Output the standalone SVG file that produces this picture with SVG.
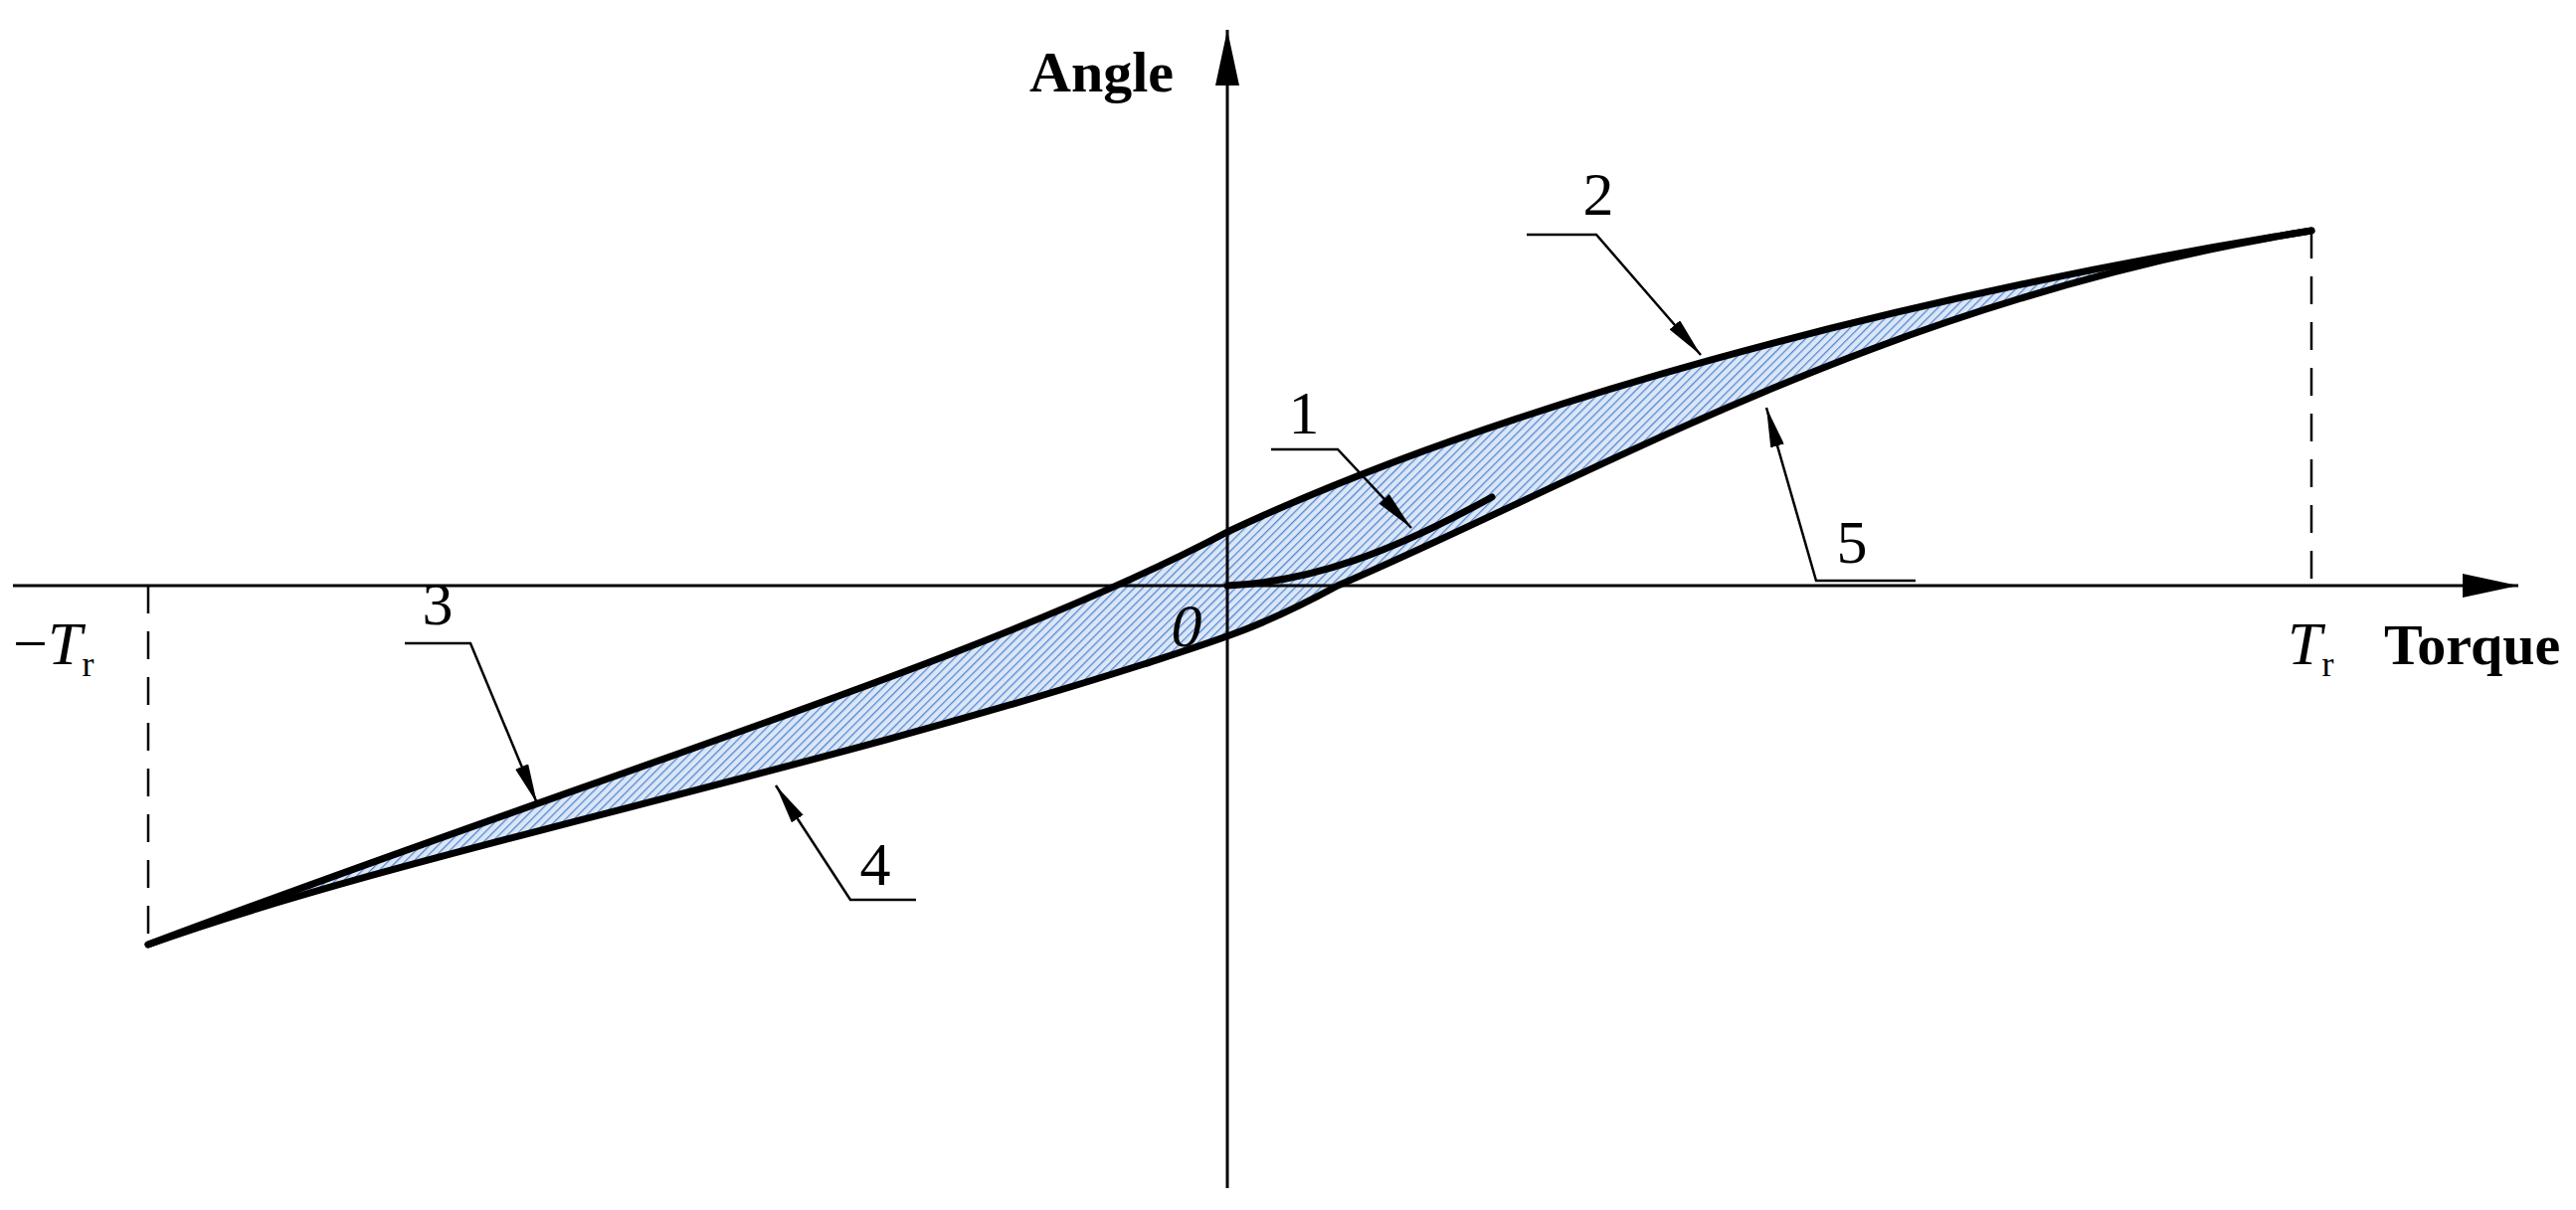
<svg xmlns="http://www.w3.org/2000/svg" width="2590" height="1217" viewBox="0 0 2590 1217">
<style>
.t{font-family:"Liberation Serif",serif;font-size:62px;fill:#000}
.b{font-weight:bold;font-size:58px}
.i{font-style:italic}
.ax{stroke:#000;stroke-width:3;fill:none}
.cv{stroke:#000;stroke-width:7;fill:none;stroke-linecap:round}
.ld{stroke:#000;stroke-width:2.5;fill:none}
.ds{stroke:#000;stroke-width:2.5;stroke-dasharray:28,18;fill:none}
</style>
<defs>
<pattern id="h" width="6" height="6" patternUnits="userSpaceOnUse" patternTransform="rotate(45)">
<rect width="6" height="6" fill="#dbe6f6"/>
<line x1="0" y1="0" x2="0" y2="6" stroke="#4f86d2" stroke-width="2.5"/>
</pattern>
<marker id="a" markerWidth="12" markerHeight="8" refX="12" refY="4" orient="auto" markerUnits="userSpaceOnUse" viewBox="0 0 12 8">
</marker>
<marker id="arr" viewBox="0 0 40 14" refX="40" refY="7" markerWidth="40" markerHeight="14" orient="auto" markerUnits="userSpaceOnUse"><path d="M0,0 L40,7 L0,14 z" fill="#000"/></marker>
<marker id="axa" viewBox="0 0 56 24" refX="56" refY="12" markerWidth="56" markerHeight="24" orient="auto" markerUnits="userSpaceOnUse"><path d="M0,0 L56,12 L0,24 z" fill="#000"/></marker>
</defs>
<g id="region">
<path d="M149,950 C600,780 1000,660 1234,535 C1500,410 1900,300 2324,232 C1900,300 1600,480 1345,589 C1270,630 1230,642 1150,668 C800,780 400,860 149,950 z" fill="url(#h)" stroke="none"/>
</g>
<g id="axes">
<line class="ax" x1="13" y1="589" x2="2532" y2="589" marker-end="url(#axa)"/>
<line class="ax" x1="1234" y1="1195" x2="1234" y2="30" marker-end="url(#axa)"/>
<line class="ds" x1="2324" y1="232" x2="2324" y2="589"/>
<line class="ds" x1="149" y1="589" x2="149" y2="950"/>
</g>
<g id="curves">
<path id="c2" class="cv" d="M149,950 C600,780 1000,660 1234,535 C1500,410 1900,300 2324,232"/>
<path id="c5" class="cv" d="M2324,232 C1900,300 1600,480 1345,589 C1270,630 1230,642 1150,668 C800,780 400,860 149,950"/>
<path id="c1" class="cv" d="M1234,589 C1320,585 1400,555 1500,500"/>
</g>
<g id="connectors">
<polyline class="ld" points="1535,236 1605,236 1710,357" marker-end="url(#arr)"/>
<polyline class="ld" points="1278,452 1345,452 1419,531" marker-end="url(#arr)"/>
<polyline class="ld" points="1926,584 1826,584 1776,410" marker-end="url(#arr)"/>
<polyline class="ld" points="407,647 473,647 540,808" marker-end="url(#arr)"/>
<polyline class="ld" points="921,905 855,905 780,790" marker-end="url(#arr)"/>
</g>
<g id="labels">
<text class="t" x="1607" y="216" text-anchor="middle">2</text>
<text class="t" x="1311" y="436" text-anchor="middle">1</text>
<text class="t" x="1862" y="566" text-anchor="middle">5</text>
<text class="t" x="440" y="628" text-anchor="middle">3</text>
<text class="t" x="880" y="890" text-anchor="middle">4</text>
<text class="t i" x="1193" y="650" text-anchor="middle">0</text>
<text class="t b" x="1180" y="92" text-anchor="end">Angle</text>
<text class="t b" x="2397" y="668">Torque</text>
<text class="t i" x="2300" y="668">T<tspan font-size="36" font-style="normal" dy="12">r</tspan></text>
<text class="t" x="13" y="668">−<tspan font-style="italic">T</tspan><tspan font-size="36" dy="12">r</tspan></text>
</g>
</svg>
